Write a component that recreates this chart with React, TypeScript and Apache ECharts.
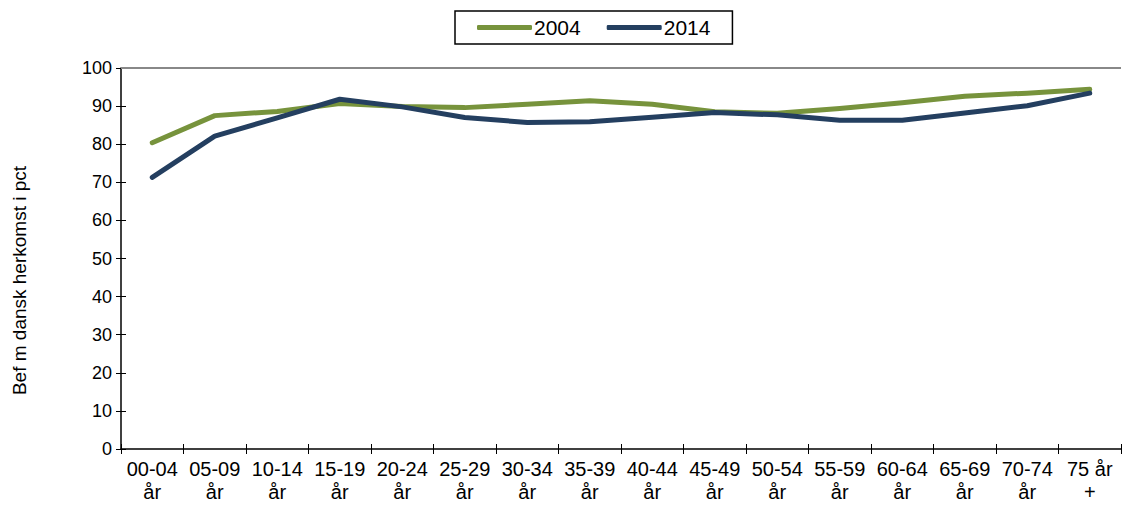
import React, { useEffect, useRef } from "react";
import * as echarts from "echarts";

const categories = [
  "00-04\når", "05-09\når", "10-14\når", "15-19\når", "20-24\når", "25-29\når",
  "30-34\når", "35-39\når", "40-44\når", "45-49\når", "50-54\når", "55-59\når",
  "60-64\når", "65-69\når", "70-74\når", "75 år\n+",
];
const series2004 = [80.4, 87.5, 88.6, 90.7, 89.9, 89.6, 90.5, 91.4, 90.5, 88.5, 88.1, 89.4, 90.9, 92.6, 93.4, 94.4];
const series2014 = [71.3, 82.1, 86.9, 91.8, 89.8, 87.0, 85.7, 85.9, 87.1, 88.3, 87.7, 86.3, 86.3, 88.2, 90.1, 93.4];
const yTicks = { min: 0, max: 100, interval: 10 };
const topLine = 100;

export default function App() {
  const ref = useRef<HTMLDivElement>(null);
  useEffect(() => {
    if (!ref.current) return;
    const chart = echarts.init(ref.current, undefined, { renderer: "svg" });
    const font = "Liberation Sans, Arial, sans-serif";
    chart.setOption({
      animation: false,
      textStyle: { fontFamily: font },
      legend: {
        top: 11,
        left: 455,
        padding: [6, 22, 6, 22],
        borderColor: "#000",
        borderWidth: 1.5,
        itemWidth: 55,
        itemHeight: 5,
        itemGap: 26,
        textStyle: { fontSize: 21, color: "#000", fontFamily: font, padding: [0, 0, 0, -3] },
        data: [
          { name: "2004", icon: "roundRect" },
          { name: "2014", icon: "roundRect" },
        ],
      },
      grid: { left: 121, right: 2, top: 68, bottom: 57, containLabel: false },
      xAxis: [
        {
          type: "category",
          data: categories,
          boundaryGap: true,
          axisLine: { lineStyle: { color: "#000", width: 1.5 } },
          axisTick: { show: true, length: 5, lineStyle: { color: "#000", width: 1 } },
          axisLabel: { color: "#000", fontSize: 20, fontFamily: font, interval: 0, lineHeight: 23, margin: 8 },
        },
        {
          type: "category",
          data: categories,
          position: "bottom",
          boundaryGap: true,
          axisLine: { show: false },
          axisTick: { show: true, inside: true, length: 5, lineStyle: { color: "#000", width: 1 } },
          axisLabel: { show: false },
        },
      ],
      yAxis: [
        {
          type: "value",
          min: yTicks.min,
          max: yTicks.max,
          interval: yTicks.interval,
          name: "Bef m dansk herkomst i pct",
          nameLocation: "middle",
          nameGap: 92,
          nameRotate: 90,
          nameTextStyle: { color: "#000", fontSize: 19, fontFamily: font, padding: [0, 44, 0, 0] },
          axisLine: { show: true, lineStyle: { color: "#000", width: 1.5 } },
          axisTick: { show: true, length: 5, lineStyle: { color: "#000", width: 1 } },
          axisLabel: { color: "#000", fontSize: 18, fontFamily: font, margin: 9 },
          splitLine: { show: false },
        },
        {
          type: "value",
          min: yTicks.min,
          max: yTicks.max,
          interval: yTicks.interval,
          position: "left",
          axisLine: { show: false },
          axisTick: { show: true, inside: true, length: 5, lineStyle: { color: "#000", width: 1 } },
          axisLabel: { show: false },
          splitLine: { show: false },
        },
      ],
      series: [
        {
          name: "2004",
          type: "line",
          data: series2004,
          symbol: "none",
          color: "#77933C",
          lineStyle: { color: "#77933C", width: 5, cap: "round", join: "round" },
          markLine: {
            silent: true,
            symbol: "none",
            label: { show: false },
            lineStyle: { color: "#888", width: 2, type: "solid" },
            data: [{ yAxis: topLine }],
          },
          z: 3,
        },
        {
          name: "2014",
          type: "line",
          data: series2014,
          symbol: "none",
          color: "#243F60",
          lineStyle: { color: "#243F60", width: 5, cap: "round", join: "round" },
          z: 4,
        },
      ],
    });
    return () => chart.dispose();
  }, []);
  return <div ref={ref} style={{ width: 1123, height: 506, position: "absolute", left: 0, top: 0 }} />;
}
